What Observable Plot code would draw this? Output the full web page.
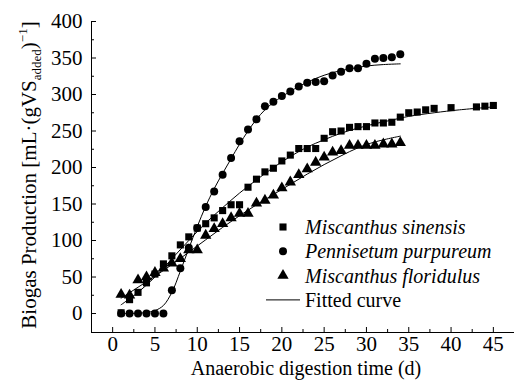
<!DOCTYPE html>
<html><head><meta charset="utf-8">
<script src="https://cdn.jsdelivr.net/npm/d3@7"></script>
<script src="https://cdn.jsdelivr.net/npm/@observablehq/plot@0.6"></script>
<style>body{margin:0;background:#fff;} #chart{position:relative;width:514px;height:385px;}</style>
</head><body><div id="chart"></div>
<script>
// Miscanthus sinensis (squares)
const msDays = [1,2,3,4,5,6,7,8,9,10,11,12,13,14,15,16,17,18,19,20,21,22,23,24,25,26,27,28,29,30,31,32,33,34,35,36,37,38,40,43,44,45];
const msValues = [1,19,29,42,54,68,79,94,105,117,123,131,141,149,149,173,184,194,199,209,217,226,226,226,240,249,250,255,256,256,261,261,262,269,275,276,279,281,282,283,284,285];
// Pennisetum purpureum (circles)
const ppDays = [1,2,3,4,5,6,7,8,9,10,11,12,13,14,15,16,17,18,19,20,21,22,23,24,25,26,27,28,29,30,31,32,33,34];
const ppValues = [0,0,0,0,0,0,32,62,90,117,146,167,190,213,236,252,266,284,290,298,304,311,316,317,318,326,331,336,336,342,349,350,351,355];
// Miscanthus floridulus (triangles)
const mfDays = [1,2,3,4,5,6,7,8,9,10,11,12,13,14,15,16,17,18,19,20,21,22,23,24,25,26,27,28,29,30,31,32,33,34];
const mfValues = [26,25,46,50,56,62,69,75,87,87,107,116,123,131,137,137,151,155,162,172,180,190,198,207,214,221,223,230,230,230,230,232,232,234];
// Fitted curves
const msFitDays = [1,3,5,7,9,11,13,15,17,19,21,23,25,27,29,31,33,35,38,41,45];
const msFitValues = [12,29,50,75,100,124,145,165,183,200,215,228,238,247,254,260,265,270,275,279,283];
const ppFitDays = [1,2,3,4,5,6,7,8,9,10,11,12,13,14,15,16,17,18,19,20,22,24,26,28,30,32,34];
const ppFitValues = [0,0,0.5,1.5,4,11,29,58,89,119,147,171,192,212,232,250,266,279,289,297,311,322,330,335,339,341,342];
const mfFitDays = [1,3,5,7,9,11,13,15,17,19,21,23,25,27,29,31,34];
const mfFitValues = [21,36,51,67,84,101,118,134,149,163,177,191,204,216,227,235,243];

const xDomain = [-2.5, 47.5];
const yDomain = [-26, 400];
const xTicks = [0,5,10,15,20,25,30,35,40,45];
const xMinor = [2.5,7.5,12.5,17.5,22.5,27.5,32.5,37.5,42.5,47.5];
const yTicks = [0,50,100,150,200,250,300,350,400];
const yMinor = [25,75,125,175,225,275,325,375];

const legendLabels = ["Miscanthus sinensis","Pennisetum purpureum","Miscanthus floridulus","Fitted curve"];
const xTitle = "Anaerobic digestion time (d)";

const zip = (xs, ys) => xs.map((x, i) => ({x, y: ys[i]}));
const ms = zip(msDays, msValues), pp = zip(ppDays, ppValues), mf = zip(mfDays, mfValues);
const msFit = zip(msFitDays, msFitValues), ppFit = zip(ppFitDays, ppFitValues), mfFit = zip(mfFitDays, mfFitValues);

const font = "'Liberation Serif','Times New Roman',serif";
const plot = Plot.plot({
  width: 514, height: 385,
  marginLeft: 91, marginRight: 0, marginTop: 21, marginBottom: 53,
  x: {domain: xDomain},
  y: {domain: yDomain},
  style: {fontFamily: font, fontSize: "21px", color: "black", background: "white", overflow: "visible"},
  marks: [
    Plot.ruleX([xDomain[0]], {stroke: "black", strokeWidth: 1}),
    Plot.ruleY([yDomain[0]], {stroke: "black", strokeWidth: 1}),
    Plot.axisX(xTicks, {tickSize: -5, tickPadding: 9, label: null, stroke: "black"}),
    Plot.axisX(xMinor, {tickSize: -3, fill: "none", label: null, stroke: "black"}),
    Plot.axisY(yTicks, {tickSize: -5, tickPadding: 14, label: null, stroke: "black"}),
    Plot.axisY(yMinor, {tickSize: -3, fill: "none", label: null, stroke: "black"}),
    Plot.line(msFit, {x: "x", y: "y", stroke: "black", strokeWidth: 1, curve: "catmull-rom"}),
    Plot.line(ppFit, {x: "x", y: "y", stroke: "black", strokeWidth: 1, curve: "catmull-rom"}),
    Plot.line(mfFit, {x: "x", y: "y", stroke: "black", strokeWidth: 1, curve: "catmull-rom"}),
    Plot.dot(ms, {x: "x", y: "y", symbol: "square", r: 4, fill: "black", stroke: "none"}),
    Plot.dot(pp, {x: "x", y: "y", symbol: "circle", r: 4, fill: "black", stroke: "none"}),
    Plot.dot(mf, {x: "x", y: "y", symbol: "triangle", r: 4.2, fill: "black", stroke: "none"})
  ]
});
document.getElementById("chart").appendChild(plot);

const svg = d3.select(plot);
// x-axis title
svg.append("text").attr("x", 306).attr("y", 375).attr("text-anchor", "middle")
  .attr("font-family", font).attr("font-size", 20).attr("fill", "black").text(xTitle);
// y-axis title with subscript / superscript
const yt = svg.append("text").attr("transform", "translate(36,175) rotate(-90)")
  .attr("text-anchor", "middle").attr("font-family", font).attr("font-size", 21).attr("fill", "black");
yt.append("tspan").text("Biogas Production [mL·(gVS");
yt.append("tspan").attr("font-size", 13).attr("dy", 5).text("added");
yt.append("tspan").attr("dy", -5).text(")");
yt.append("tspan").attr("font-size", 13).attr("dy", -9).text("−1");
yt.append("tspan").attr("dy", 9).text("]");

// legend
const lg = svg.append("g").attr("font-family", font).attr("font-size", 20).attr("fill", "black").attr("text-anchor", "start");
const symbols = [d3.symbolSquare, d3.symbolCircle, d3.symbolTriangle];
const sizes = [Math.PI * 16, Math.PI * 16, Math.PI * 4.2 * 4.2];
legendLabels.forEach((label, i) => {
  const y = 227 + i * 24.3;
  if (i < 3) {
    lg.append("path").attr("d", d3.symbol(symbols[i], sizes[i])()).attr("transform", `translate(283,${y})`).attr("fill", "black");
  } else {
    lg.append("line").attr("x1", 266).attr("x2", 300).attr("y1", y).attr("y2", y).attr("stroke", "black").attr("stroke-width", 1);
  }
  lg.append("text").attr("x", 305).attr("y", y).attr("dy", "0.35em").attr("text-anchor", "start")
    .attr("font-style", i < 3 ? "italic" : "normal").text(label);
});
</script></body></html>
